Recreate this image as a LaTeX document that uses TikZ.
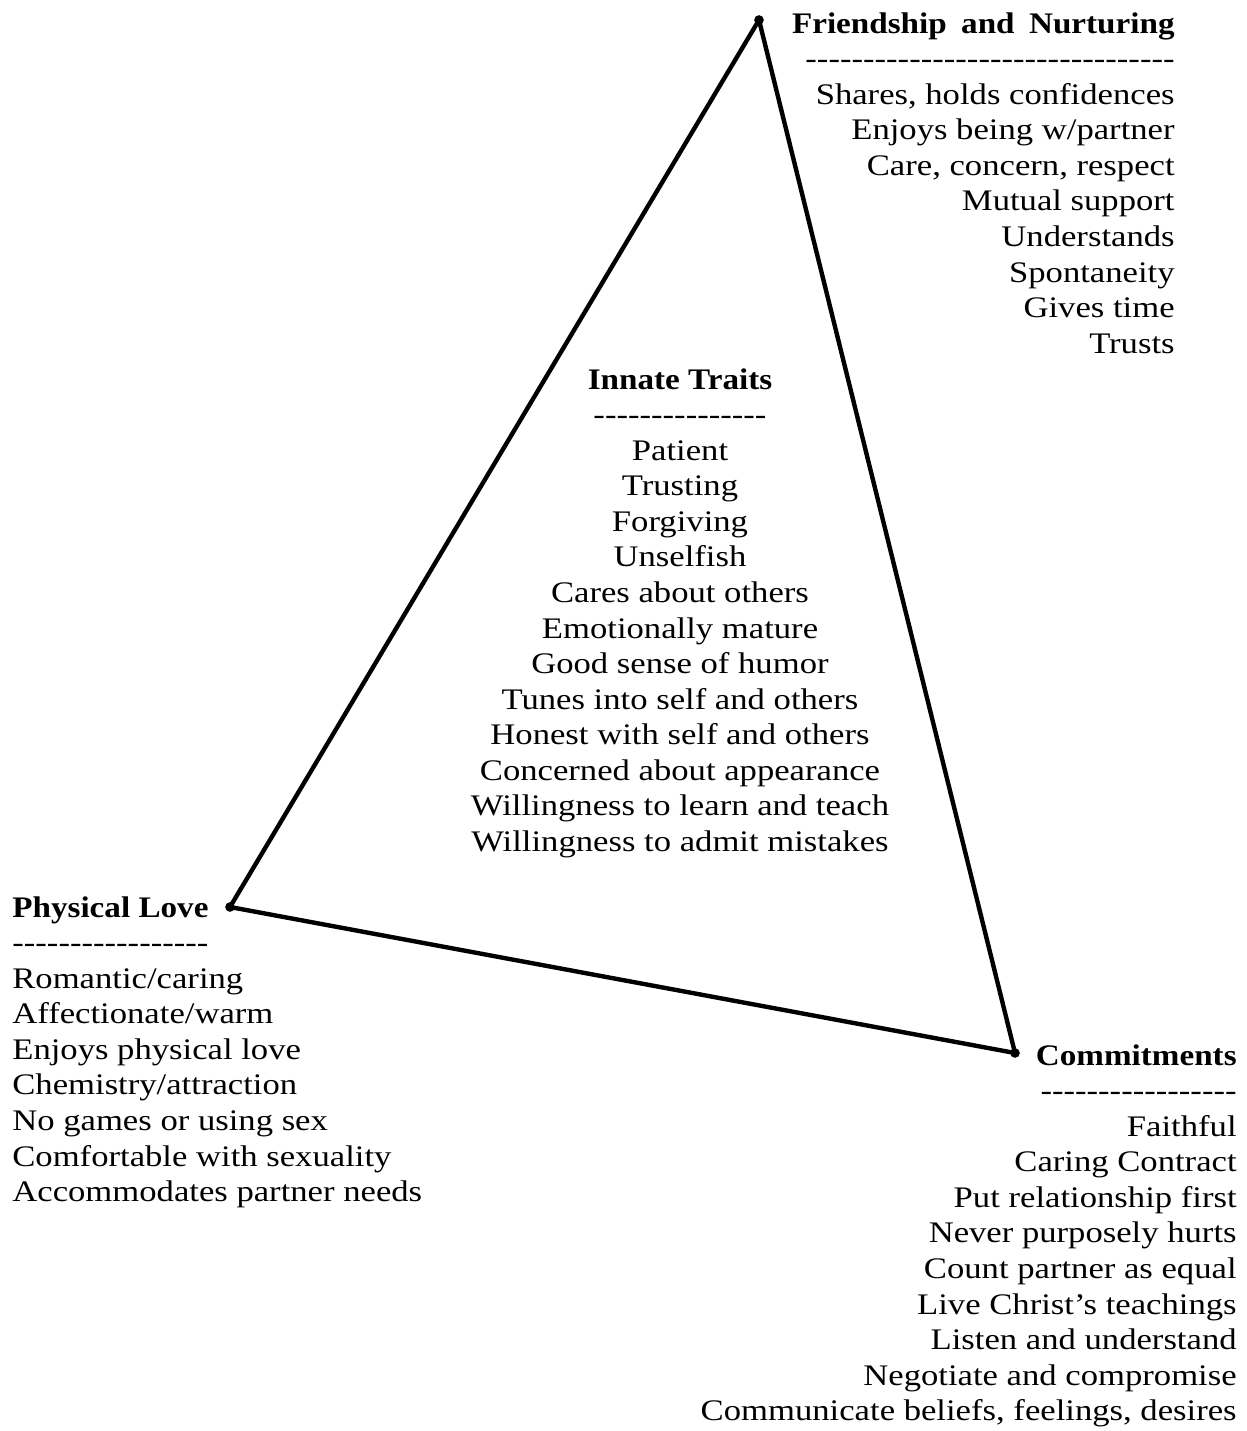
\documentclass[tikz,border=0pt]{standalone}
\usepackage{fontspec}
\setmainfont{Liberation Serif}[FakeStretch=1.16, BoldFeatures={FakeStretch=1.11}]
\usetikzlibrary{positioning}
\newcommand\dashrow[1]{\foreach\k in {1,...,#1}{-}}
\tikzset{
  vtx/.style={circle, fill=black, inner sep=0pt, minimum size=5.5pt},
  side/.style={line width=2.5pt, line join=round},
  blocktxt/.style={inner sep=0pt, font=\fontsize{17}{20.24}\selectfont},
}

\begin{document}
\begin{tikzpicture}[x=0.02cm, y=-0.02cm]
  \useasboundingbox (0,0) rectangle (1247,1431);
  % corners of the triangle
  \node[vtx] (fn) at (759,20) {};
  \node[vtx] (pl) at (230,907) {};
  \node[vtx] (cm) at (1015,1053) {};
  \draw[side] (fn.center) -- (pl.center) -- (cm.center) -- cycle;

  % trait lists
  \node[blocktxt, align=right, anchor=north east] (fnlist) at (1175,12)
    {\textbf{Friendship\hspace{3.5pt} and\hspace{3.5pt} Nurturing}\\ \dashrow{32}\\
     Shares, holds confidences\\ Enjoys being w/partner\\
     Care, concern, respect\\ Mutual support\\ Understands\\
     Spontaneity\\ Gives time\\ Trusts};
  \node[blocktxt, align=center, anchor=north] (itlist) at (680,368)
    {\textbf{Innate Traits}\\ \dashrow{15}\\
     Patient\\ Trusting\\ Forgiving\\ Unselfish\\ Cares about others\\
     Emotionally mature\\ Good sense of humor\\ Tunes into self and others\\
     Honest with self and others\\ Concerned about appearance\\
     Willingness to learn and teach\\ Willingness to admit mistakes};
  \node[blocktxt, align=left, anchor=north west] (pllist) at (12,896)
    {\textbf{Physical Love}\\ \dashrow{17}\\
     Romantic/caring\\ Affectionate/warm\\ Enjoys physical love\\
     Chemistry/attraction\\ No games or using sex\\
     Comfortable with sexuality\\ Accommodates partner needs};
  \node[blocktxt, align=right, anchor=north east] (cmlist) at (1237,1044)
    {\textbf{Commitments}\\ \dashrow{17}\\
     Faithful\\ Caring Contract\\ Put relationship first\\
     Never purposely hurts\\ Count partner as equal\\
     Live Christ's teachings\\ Listen and understand\\
     Negotiate and compromise\\ Communicate beliefs, feelings, desires};
\end{tikzpicture}
\end{document}
